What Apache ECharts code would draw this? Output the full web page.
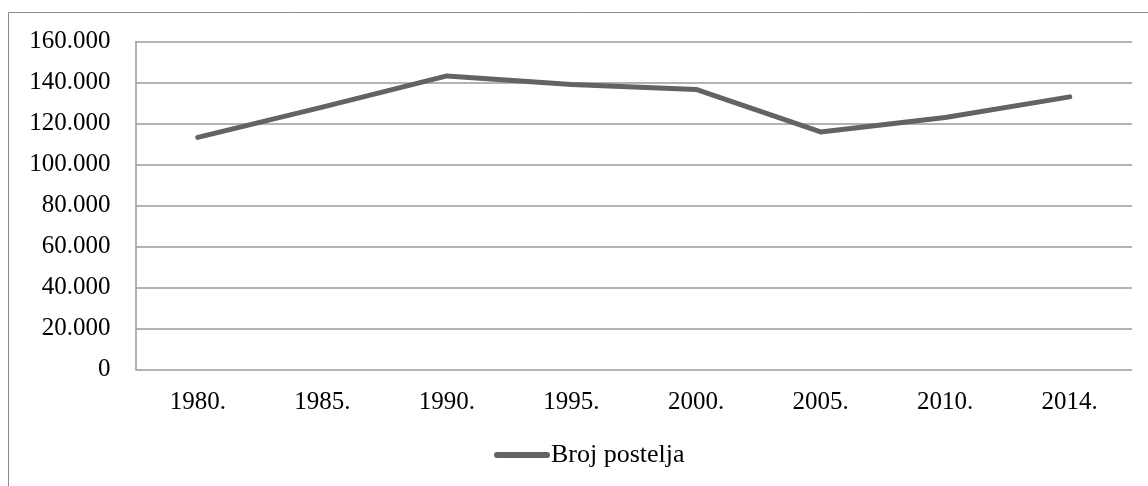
<!DOCTYPE html>
<html>
<head>
<meta charset="utf-8">
<script src="https://cdn.jsdelivr.net/npm/echarts@6/dist/echarts.min.js"></script>
<style>
html, body { margin: 0; padding: 0; background: #fff; }
#chart { width: 1148px; height: 486px; }
</style>
</head>
<body>
<div id="chart"></div>
<script>
'use strict';
// podaci
const years = ['1980.', '1985.', '1990.', '1995.', '2000.', '2005.', '2010.', '2014.'];
const beds = [113200, 128000, 143200, 139000, 136600, 115900, 122900, 133000];
const seriesName = 'Broj postelja';

function fmt(v) {
    if (v === 0) return '0';
    return String(v).replace(/\B(?=(\d{3})+(?!\d))/g, '.');
}

function init() {
    const chart = echarts.init(document.getElementById('chart'));
    const font = '"Liberation Serif", "Times New Roman", serif';
    const option = {
        animation: false,
        textStyle: { fontFamily: font },
        graphic: [{
            type: 'rect',
            shape: { x: 8.5, y: 12.5, width: 1200, height: 600 },
            style: { fill: 'none', stroke: '#8a8a8a', lineWidth: 1 },
            silent: true,
        }],
        grid: {
            left: 135.5,
            right: 16,
            top: 41.5,
            height: 328,
        },
        legend: {
            left: 489,
            top: 437,
            itemWidth: 56,
            itemHeight: 6,
            textStyle: { fontFamily: font, fontSize: 26, color: '#000', padding: [0, 0, 0, -4] },
            data: [{
                name: seriesName,
                icon: 'path://M3,0H53A3,3 0 0 1 53,6H3A3,3 0 0 1 3,0Z',
                itemStyle: { color: '#636363' },
            }],
        },
        xAxis: {
            type: 'category',
            data: years,
            boundaryGap: true,
            axisLine: { show: false },
            axisTick: { show: false },
            axisLabel: { fontSize: 25, color: '#000', margin: 20, fontFamily: font },
        },
        yAxis: {
            type: 'value',
            min: 0,
            max: 160000,
            interval: 20000,
            axisLine: { show: true, lineStyle: { color: '#9a9a9a', width: 1.5 } },
            axisTick: { show: false },
            splitLine: { lineStyle: { color: '#9a9a9a', width: 1.5 } },
            axisLabel: { fontSize: 25, color: '#000', margin: 25, fontFamily: font, formatter: fmt },
        },
        series: [{
            name: seriesName,
            type: 'line',
            data: beds,
            symbol: 'none',
            lineStyle: { color: '#636363', width: 5, cap: 'round', join: 'round' },
            itemStyle: { color: '#636363' },
        }],
    };
    chart.setOption(option);
}

init();
</script>
</body>
</html>
